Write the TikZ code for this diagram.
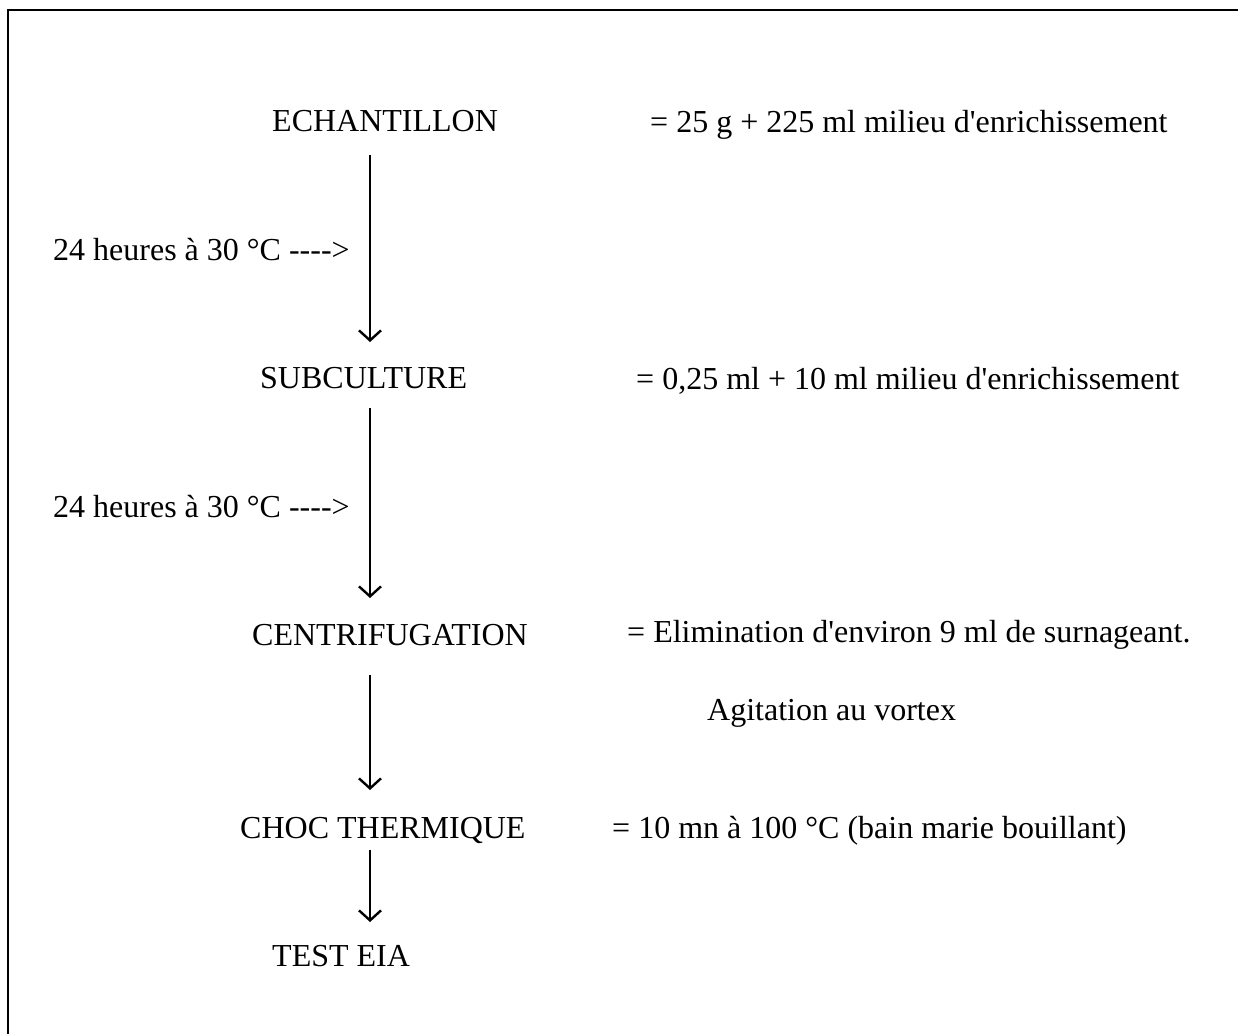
\documentclass[tikz,border=0pt]{standalone}
\usepackage{fontspec}
\setmainfont{Liberation Serif}[Ligatures=TeXOff]
\usetikzlibrary{arrows.meta}

\tikzset{
    txt/.style={anchor=base west, inner sep=0pt, font=\fontsize{32}{38}\selectfont},
    flow/.style={line width=2.4pt, -{Straight Barb[length=10pt,width=22pt,line width=2.4pt]}}
}

\begin{document}
\begin{tikzpicture}[x=1pt,y=1pt]
                \useasboundingbox (0,0) rectangle (1238,-1034);

                %Frame
                \draw[line width=2.5pt] (8,-1034) -- (8,-10) -- (1238,-10);

                %Steps
                \node[txt] (echantillon) at (272,-131) {ECHANTILLON};
                \node[txt] (subculture) at (260,-388) {SUBCULTURE};
                \node[txt] (centrif) at (252,-645) {CENTRIFUGATION};
                \node[txt] (choc) at (240,-838) {CHOC THERMIQUE};
                \node[txt] (test) at (272,-966) {TEST EIA};

                %Details
                \node[txt] (d1) at (650,-132) {= 25 g + 225 ml milieu d'enrichissement};
                \node[txt] (d2) at (636,-389) {= 0,25 ml + 10 ml milieu d'enrichissement};
                \node[txt] (d3) at (627,-642) {= Elimination d'environ 9 ml de surnageant.};
                \node[txt] (d3b) at (707,-720) {Agitation au vortex};
                \node[txt] (d4) at (612,-838) {= 10 mn à 100 °C (bain marie bouillant)};

                %Incubation labels
                \foreach \y/\nm in {260/inc1, 517/inc2}
                \node[txt] (\nm) at (53,-\y) {24 heures à 30 °C ---->};

                %Arrows
                \foreach \nm/\ya/\yb in {a/155/342, b/408/598, c/675/790, d/850/922}
                {
                    \coordinate (\nm s) at (370,-\ya);
                    \coordinate (\nm e) at (370,-\yb);
                    \draw[flow] (\nm s) -- (\nm e);
                }

            \end{tikzpicture}
\end{document}
